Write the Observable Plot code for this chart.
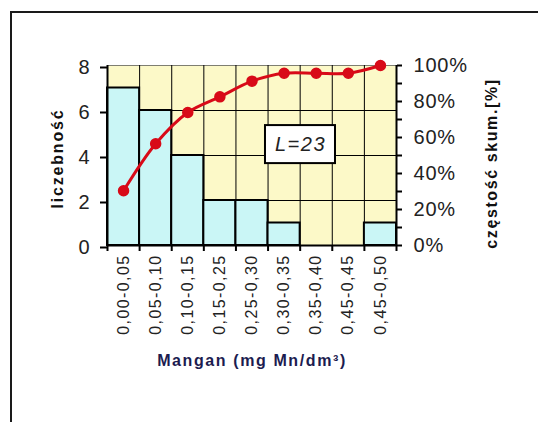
<!DOCTYPE html>
<html><head><meta charset="utf-8">
<script src="https://cdn.jsdelivr.net/npm/d3@7"></script>
<script src="https://cdn.jsdelivr.net/npm/@observablehq/plot@0.6"></script>
<style>
html,body{margin:0;padding:0;background:#fff;overflow:hidden;width:538px;height:422px}
#border{position:absolute;left:10px;top:11px;width:600px;height:500px;border:2px solid #1a1a1a}
#chart{position:absolute;left:0;top:0}
g[aria-label="y-axis tick label"] text{letter-spacing:0.8px}
g[aria-label="x-axis tick label"] text{letter-spacing:1.4px}
</style></head><body>
<div id="border"></div><div id="chart"></div>
<script>
const categories = ["0,00-0,05","0,05-0,10","0,10-0,15","0,15-0,25","0,25-0,30","0,30-0,35","0,35-0,40","0,45-0,45","0,45-0,50"];
const counts = [7, 6, 4, 2, 2, 1, 0, 0, 1];
const cumulativePct = [30.4, 56.5, 73.9, 82.6, 91.3, 95.7, 95.7, 95.7, 100];
const countTicks = [0, 2, 4, 6, 8];
const pctTicks = [0, 10, 20, 30, 40, 50, 60, 70, 80, 90, 100];
const xTitle = "Mangan (mg Mn/dm³)";
const yTitle = "liczebność";
const y2Title = "częstość skum.[%]";
const noteText = "L=23";

const countMax = d3.max(countTicks);
const data = categories.map((c, i) => ({i, category: c, count: counts[i], cum: cumulativePct[i]}));
const boundaries = d3.range(0, categories.length + 1);
const pctToCount = p => p / 100 * countMax;

const chart = Plot.plot({
  width: 538, height: 422,
  marginLeft: 107, marginRight: 142, marginTop: 65, marginBottom: 177,
  x: {type: "linear", domain: [0, categories.length], axis: null},
  y: {domain: [0, countMax], axis: null},
  style: {fontFamily: "'Liberation Sans', Arial, sans-serif", background: "transparent", overflow: "visible"},
  marks: [
    Plot.frame({fill: "#fcf9c8", stroke: null}),
    Plot.ruleX(boundaries.slice(1, -1), {stroke: "#000", strokeWidth: 1}),
    Plot.ruleY(countTicks.slice(1, -1), {stroke: "#000", strokeWidth: 1}),
    Plot.ruleY([countMax], {stroke: "#000", strokeOpacity: 0.5, strokeWidth: 1}),
    Plot.rect(data.filter(d => d.count > 0), {x1: "i", x2: d => d.i + 1, y1: 0, y2: "count", fill: "#caf6f6", stroke: "#000", strokeWidth: 2}),
    Plot.line(data, {x: d => d.i + 0.5, y: d => pctToCount(d.cum), stroke: "#d80a18", strokeWidth: 3, curve: "catmull-rom"}),
    Plot.dot(data, {x: d => d.i + 0.5, y: d => pctToCount(d.cum), r: 5, fill: "#d80a18", stroke: "#d80a18"}),
    Plot.ruleX([0, categories.length], {stroke: "#000", strokeWidth: 2}),
    Plot.ruleY([0], {stroke: "#000", strokeWidth: 2}),
    Plot.axisY(countTicks, {anchor: "left", tickSize: 7, tickPadding: 10, strokeWidth: 2, stroke: "#000", fill: "#222", fontSize: 20, dy: 2, label: null}),
    Plot.axisY(pctTicks.map(pctToCount), {anchor: "right", tickSize: 5, tickPadding: 12, strokeWidth: 2, stroke: "#000", fill: "#222", fontSize: 20, label: null,
      tickFormat: v => { const p = Math.round(v / countMax * 100); return p % 20 === 0 ? p + "%" : ""; }}),
    Plot.axisX(boundaries, {anchor: "bottom", tickSize: 6, strokeWidth: 2, stroke: "#000", tickFormat: () => "", label: null}),
    Plot.axisX(data.map(d => d.i + 0.5), {anchor: "bottom", tickSize: 0, tickPadding: 9, tickRotate: -90, fontSize: 16, fill: "#222", label: null,
      tickFormat: v => categories[Math.floor(v)]}),
    Plot.text([xTitle], {frameAnchor: "bottom", dy: 115, textAnchor: "middle", lineAnchor: "middle", fontWeight: "bold", fontSize: 16, fill: "#1c1c50"}),
    Plot.text([yTitle], {frameAnchor: "left", dx: -50, dy: 3, rotate: -90, textAnchor: "middle", lineAnchor: "middle", fontWeight: "bold", fontSize: 16, fill: "#111"}),
    Plot.text([y2Title], {frameAnchor: "right", dx: 95, dy: 8, rotate: -90, textAnchor: "middle", lineAnchor: "middle", fontWeight: "bold", fontSize: 16, fill: "#111"}),
    Plot.rect([noteText], {x1: 4.92, x2: 7.1, y1: 3.64, y2: 5.33, fill: "#fff", stroke: "#000", strokeWidth: 2}),
    Plot.text([noteText], {x: 6.01, y: 4.49, fontStyle: "italic", fontSize: 20, fill: "#222"})
  ]
});
const spacing = new Map([[xTitle, "1.6px"], [yTitle, "1.8px"], [y2Title, "1.6px"], [noteText, "1.5px"]]);
d3.select(chart).selectAll("text").each(function() {
  const s = spacing.get(this.textContent);
  if (s) this.style.letterSpacing = s;
});
document.getElementById("chart").append(chart);
</script>
</body></html>
